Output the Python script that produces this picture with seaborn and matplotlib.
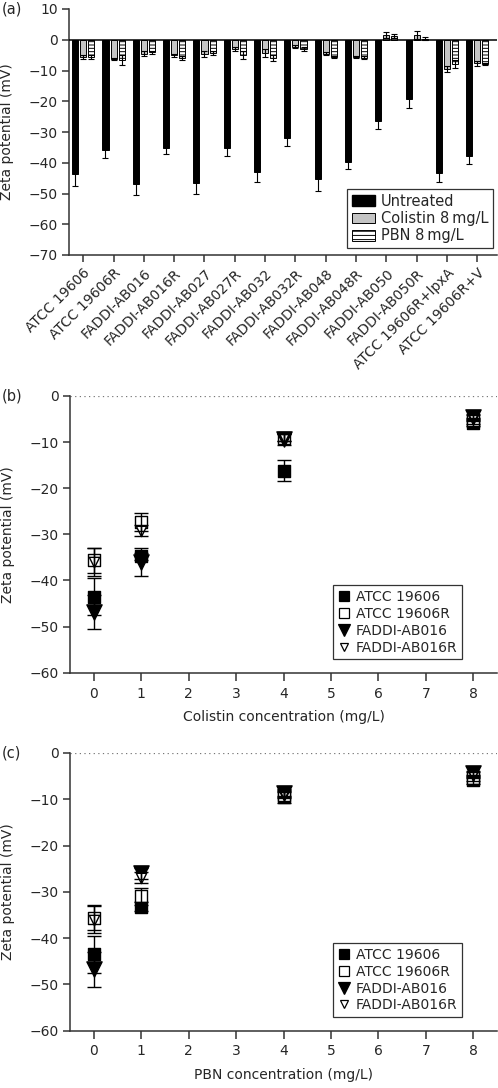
import numpy as np
import pandas as pd
import matplotlib
matplotlib.use("Agg")
import matplotlib.pyplot as plt
from matplotlib.patches import Patch
from matplotlib.lines import Line2D
import seaborn as sns

# ---------------- data ----------------
strains = ["ATCC 19606", "ATCC 19606R", "FADDI-AB016", "FADDI-AB016R",
           "FADDI-AB027", "FADDI-AB027R", "FADDI-AB032", "FADDI-AB032R",
           "FADDI-AB048", "FADDI-AB048R", "FADDI-AB050", "FADDI-AB050R",
           "ATCC 19606R+lpxA", "ATCC 19606R+V"]
treatments = ["Untreated", "Colistin 8\u2009mg/L", "PBN 8\u2009mg/L"]
untreated = [-43.5, -36.0, -46.8, -35.3, -46.5, -35.3, -43.0, -32.1, -45.4, -39.7, -26.4, -19.3, -43.2, -37.9]
untreated_err = [4.0, 2.5, 3.7, 2.0, 3.8, 2.5, 3.3, 2.4, 3.8, 2.2, 2.5, 2.8, 3.0, 2.4]
colistin8 = [-5.6, -6.2, -4.6, -5.1, -4.5, -3.0, -4.3, -2.2, -4.5, -5.6, 1.6, 1.6, -9.4, -7.6]
colistin8_err = [0.6, 0.3, 0.8, 0.6, 1.0, 0.8, 1.2, 0.5, 0.4, 0.4, 0.9, 1.2, 1.0, 0.8]
pbn8 = [-5.6, -6.6, -4.1, -6.0, -4.2, -5.0, -5.8, -3.0, -5.6, -5.8, 1.3, 0.3, -7.8, -7.8]
pbn8_err = [0.5, 1.5, 0.5, 0.7, 0.7, 1.3, 1.0, 0.7, 0.4, 0.6, 0.6, 0.5, 1.3, 0.4]

conc = [0, 1, 4, 8]
series_names = ["ATCC 19606", "ATCC 19606R", "FADDI-AB016", "FADDI-AB016R"]
col_vals = {
    "ATCC 19606": [-43.5, -34.8, -16.2, -5.8],
    "ATCC 19606R": [-35.6, -27.3, -9.0, -5.4],
    "FADDI-AB016": [-46.8, -36.0, -9.3, -4.6],
    "FADDI-AB016R": [-36.0, -29.2, -9.0, -4.8],
}
col_errs = {
    "ATCC 19606": [4.0, 0.8, 2.3, 0.8],
    "ATCC 19606R": [2.7, 1.9, 0.8, 0.6],
    "FADDI-AB016": [3.7, 3.0, 1.3, 0.6],
    "FADDI-AB016R": [3.0, 1.2, 0.8, 0.6],
}
pbn_vals = {
    "ATCC 19606": [-43.5, -33.2, -9.6, -5.9],
    "ATCC 19606R": [-35.6, -31.0, -9.0, -5.4],
    "FADDI-AB016": [-46.8, -26.0, -8.6, -4.4],
    "FADDI-AB016R": [-36.0, -27.0, -8.8, -4.7],
}
pbn_errs = {
    "ATCC 19606": [4.0, 1.0, 1.2, 0.8],
    "ATCC 19606R": [2.7, 1.8, 0.8, 0.6],
    "FADDI-AB016": [3.7, 1.2, 0.8, 0.5],
    "FADDI-AB016R": [3.0, 1.2, 0.8, 0.6],
}
yticks_a = [10, 0, -10, -20, -30, -40, -50, -60, -70]
yticks_bc = [0, -10, -20, -30, -40, -50, -60]
xticks_bc = [0, 1, 2, 3, 4, 5, 6, 7, 8]

# ---------------- style ----------------
sns.set_style("ticks")
plt.rcParams["font.family"] = ["DejaVu Sans"]
plt.rcParams["font.size"] = 10
plt.rcParams["hatch.linewidth"] = 0.7
SPINE = "#333333"

W, H = 498, 1088
fig = plt.figure(figsize=(W / 100, H / 100), dpi=100)

def axes_px(left, right, top, bottom):
    return fig.add_axes([left / W, 1 - bottom / H, (right - left) / W, (bottom - top) / H])

ax_a = axes_px(69, 497, 9, 255)
ax_b = axes_px(70, 497, 396, 672.7)
ax_c = axes_px(70, 497, 753, 1030.5)

def style_axes(ax):
    for s in ["top", "right"]:
        ax.spines[s].set_visible(False)
    for s in ["left", "bottom"]:
        ax.spines[s].set_color(SPINE)
        ax.spines[s].set_linewidth(1.1)
    ax.tick_params(axis="both", direction="out", length=5, width=1.1,
                   color=SPINE, labelsize=10, pad=3)

# ---------------- panel (a) ----------------
df = pd.DataFrame({
    "strain": strains * 3,
    "treatment": sum([[t] * len(strains) for t in treatments], []),
    "value": untreated + colistin8 + pbn8,
})
errs_all = [untreated_err, colistin8_err, pbn8_err]
colors = ["black", "#c4c4c4", "white"]
sns.barplot(data=df, x="strain", y="value", hue="treatment", order=strains,
            hue_order=treatments, palette=colors, width=0.8, gap=0.25,
            edgecolor="black", linewidth=0.7, errorbar=None, legend=False, ax=ax_a)
bar_containers = list(ax_a.containers)
for k, cont in enumerate(bar_containers):
    xs, ys = [], []
    for bar in cont:
        xs.append(bar.get_x() + bar.get_width() / 2)
        ys.append(bar.get_y() + bar.get_height())
        if k == 2:
            bar.set_hatch("-----")
    ax_a.errorbar(xs, ys, yerr=errs_all[k], fmt="none", ecolor="black",
                  elinewidth=0.8, capsize=2, capthick=0.8, zorder=3)
ax_a.axhline(0, color="black", lw=1.1, zorder=4)
ax_a.set_xlim(-0.47, 13.65)
ax_a.set_ylim(-70, 10)
ax_a.set_yticks(yticks_a)
style_axes(ax_a)
ax_a.set_xlabel("")
ax_a.set_ylabel("Zeta potential (mV)", fontsize=10)
ax_a.yaxis.set_label_coords(-0.128, 0.5)
ax_a.set_xticks(range(len(strains)))
ax_a.set_xticklabels(strains, rotation=45, ha="right", rotation_mode="anchor", fontsize=10)
leg_handles = [Patch(facecolor="black", edgecolor="black"),
               Patch(facecolor="#c4c4c4", edgecolor="black", linewidth=0.7),
               Patch(facecolor="white", edgecolor="black", hatch="----", linewidth=0.7)]
leg = ax_a.legend(leg_handles, treatments, loc="lower right", bbox_to_anchor=(0.99, 0.03),
                  frameon=True, fancybox=False, edgecolor="black", fontsize=10.5,
                  handlelength=1.6, handleheight=0.75, handletextpad=0.4,
                  borderpad=0.3, labelspacing=0.15, borderaxespad=0)
leg.get_frame().set_linewidth(0.9)

# ---------------- panels (b), (c) ----------------
marker_specs = {
    "ATCC 19606": dict(marker="s", s=80, color="black"),
    "ATCC 19606R": dict(marker="s", s=70, color="white"),
    "FADDI-AB016": dict(marker="v", s=120, color="black"),
    "FADDI-AB016R": dict(marker="v", s=55, color="white"),
}

def scatter_panel(ax, vals, errs, xlabel):
    long = []
    for name in series_names:
        for c, v in zip(conc, vals[name]):
            long.append((name, c, v))
    d = pd.DataFrame(long, columns=["strain", "conc", "zeta"])
    handles = []
    for name in series_names:
        spec = marker_specs[name]
        sub = d[d["strain"] == name]
        sns.scatterplot(data=sub, x="conc", y="zeta", marker=spec["marker"], s=spec["s"],
                        color=spec["color"], edgecolor="black", linewidth=1.0,
                        zorder=3, ax=ax, legend=False, clip_on=False)
        ax.errorbar(conc, vals[name], yerr=errs[name], fmt="none", ecolor="black",
                    elinewidth=1.0, capsize=5, capthick=1.0, zorder=4, clip_on=False)
        handles.append(Line2D([], [], ls="none", marker=spec["marker"],
                              markersize=np.sqrt(spec["s"]) * 0.85,
                              markerfacecolor=spec["color"], markeredgecolor="black",
                              markeredgewidth=0.9))
    ax.axhline(0, color="#777777", lw=0.9, ls=(0, (1, 2.7)), zorder=1)
    ax.set_xlim(-0.5, 8.5)
    ax.set_ylim(-60, 0)
    ax.set_xticks(xticks_bc)
    ax.set_yticks(yticks_bc)
    style_axes(ax)
    ax.tick_params(axis="x", length=6, pad=4)
    ax.set_xlabel(xlabel, fontsize=10, labelpad=7)
    ax.set_ylabel("Zeta potential (mV)", fontsize=10)
    ax.yaxis.set_label_coords(-0.128, 0.5)
    lg = ax.legend(handles, series_names, loc="lower right", bbox_to_anchor=(0.919, 0.048),
                   frameon=True, fancybox=False, edgecolor="black", fontsize=10,
                   handlelength=0.9, handletextpad=0.4, borderpad=0.35,
                   labelspacing=0.2, borderaxespad=0)
    lg.get_frame().set_linewidth(0.9)

scatter_panel(ax_b, col_vals, col_errs, "Colistin concentration (mg/L)")
scatter_panel(ax_c, pbn_vals, pbn_errs, "PBN concentration (mg/L)")

# panel letters
fig.text(2 / W, 1 - 9 / H, "(a)", fontsize=10.5, va="center", ha="left")
fig.text(2 / W, 1 - 396 / H, "(b)", fontsize=10.5, va="center", ha="left")
fig.text(2 / W, 1 - 753 / H, "(c)", fontsize=10.5, va="center", ha="left")

fig.savefig("out.png", dpi=100)
